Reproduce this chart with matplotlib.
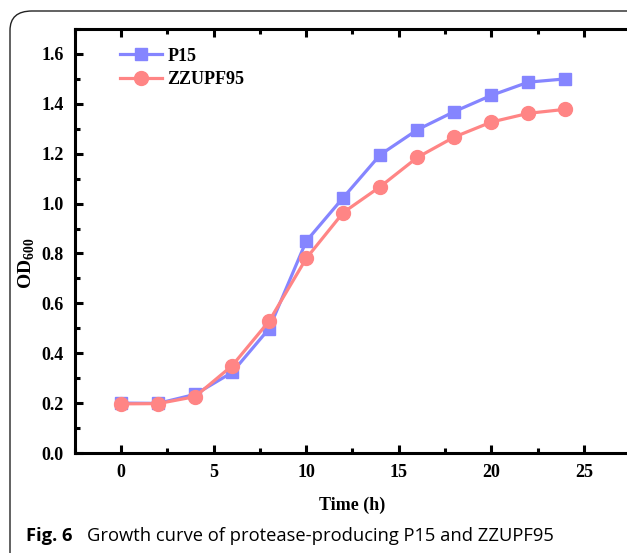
import matplotlib
matplotlib.use("Agg")
import matplotlib.pyplot as plt
from matplotlib.patches import FancyBboxPatch
from matplotlib.ticker import MultipleLocator

time_h = [0, 2, 4, 6, 8, 10, 12, 14, 16, 18, 20, 22, 24]
p15 = [0.200, 0.199, 0.235, 0.323, 0.499, 0.849, 1.024, 1.196, 1.296, 1.369, 1.434, 1.487, 1.500]
zzupf95 = [0.197, 0.198, 0.226, 0.350, 0.529, 0.780, 0.964, 1.068, 1.185, 1.267, 1.327, 1.362, 1.378]
x_ticks = [0, 5, 10, 15, 20, 25]
y_ticks = [0.0, 0.2, 0.4, 0.6, 0.8, 1.0, 1.2, 1.4, 1.6]

blue = "#8585ff"
red = "#ff8585"
serif = "Liberation Serif"

plt.rcParams["mathtext.fontset"] = "custom"
plt.rcParams["mathtext.rm"] = serif
plt.rcParams["mathtext.bf"] = serif + ":bold"

W, H = 627, 553
fig = plt.figure(figsize=(W / 100, H / 100), dpi=100)

# outer rounded frame
frame = FancyBboxPatch((10 / W, -0.05), 1.2, (H - 11) / H + 0.05,
                       boxstyle="round,pad=0,rounding_size=0.035",
                       transform=fig.transFigure, fill=False,
                       edgecolor="#222222", linewidth=1.0, clip_on=False)
fig.patches.append(frame)

ax = fig.add_axes([74.7 / W, 1 - 453 / H, (630.3 - 74.7) / W, (453 - 29) / H])

ax.plot(time_h, p15, color=blue, lw=2.3, marker="s", ms=9, label="P15")
ax.plot(time_h, zzupf95, color=red, lw=2.3, marker="o", ms=10, label="ZZUPF95")

ax.set_xlim(-2.5, 27.5)
ax.set_ylim(0, 1.7)
ax.set_xticks(x_ticks)
ax.set_yticks(y_ticks)
ax.xaxis.set_minor_locator(MultipleLocator(2.5))
ax.yaxis.set_minor_locator(MultipleLocator(0.1))
ax.set_xticklabels([str(v) for v in x_ticks], fontfamily=serif, fontweight="bold", fontsize=13)
ax.set_yticklabels([f"{v:.1f}" for v in y_ticks], fontfamily=serif, fontweight="bold", fontsize=13)

for s in ax.spines.values():
    s.set_linewidth(2.2)
ax.tick_params(which="major", direction="in", length=6, width=2.2, top=True, right=False, pad=8)
ax.tick_params(which="minor", direction="in", length=3.5, width=2.2, top=True, right=False)

ax.set_xlabel("Time (h)", fontfamily=serif, fontweight="bold", fontsize=13)
ax.xaxis.set_label_coords((352 - 74.7) / 555.6, (453 - 505) / 424)
ax.xaxis.label.set_va("center")
ax.set_ylabel(r"$\mathbf{OD}_{\mathbf{600}}$", fontsize=14)
ax.yaxis.set_label_coords((27 - 74.7) / 555.6, (453 - 263) / 424)
ax.yaxis.label.set_va("center")

leg = ax.legend(loc="upper left", bbox_to_anchor=(0.053, 0.994), frameon=False,
                prop={"family": serif, "weight": "bold", "size": 13},
                handlelength=2.3, handletextpad=0.3, labelspacing=0.35)

fig.text(26 / W, 1 - 541 / H, r"Fig. 6", fontfamily="Open Sans", fontweight="bold",
         fontsize=13.2, va="baseline", ha="left")
fig.text(87 / W, 1 - 541 / H, "Growth curve of protease-producing P15 and ZZUPF95",
         fontfamily="Open Sans", fontsize=13.2, va="baseline", ha="left")

fig.savefig("out.png", dpi=100)
